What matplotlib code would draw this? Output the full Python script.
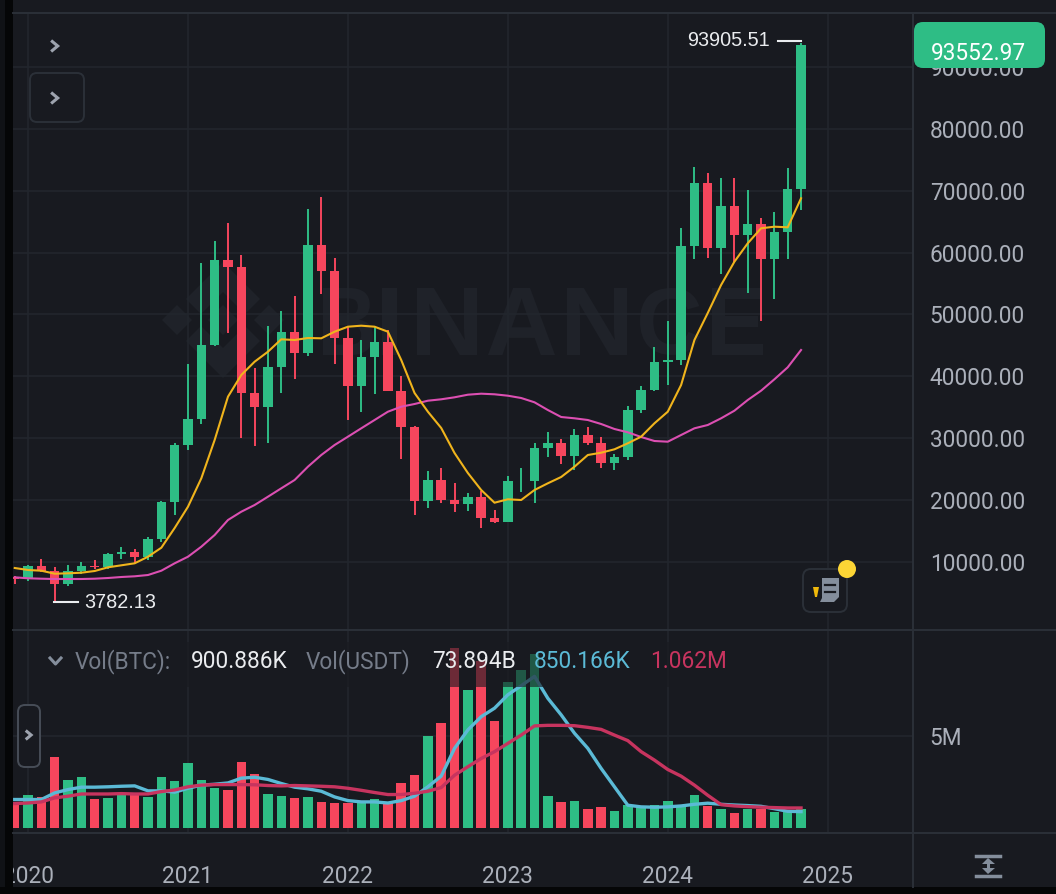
'''
Monthly BTC/USDT candles with two moving averages and a volume pane.
'''

import matplotlib
matplotlib.use('Agg')
from matplotlib import pyplot as plt
from matplotlib.font_manager import FontProperties
from matplotlib.patches import FancyBboxPatch, PathPatch, Polygon, Rectangle, Circle
from matplotlib.textpath import TextPath
from matplotlib.transforms import Affine2D

###############
#    DATA     #
###############

# one entry a month, Dec 2019 to Nov 2024
opens = [7541, 7195, 9352, 8523, 6412, 8620, 9448, 9145, 11335, 11649, 10776, 13791, 19700,
         28923, 33092, 45134, 58739, 57697, 37254, 35045, 41461, 47100, 43820, 61299, 56950,
         46216, 38466, 43160, 45510, 37630, 31801, 19942, 23296, 20048, 19422, 20490, 17165,
         16541, 23125, 23141, 28465, 29233, 27210, 30472, 29232, 25940, 26962, 34639, 37723,
         42283, 42580, 61130, 71280, 60672, 67540, 62772, 64628, 58973, 63327, 70292]
highs = [7750, 9578, 10500, 9188, 9460, 10067, 10380, 11444, 12486, 12067, 14100, 19863, 29300,
         41950, 58352, 61844, 64854, 59592, 41330, 48168, 50500, 52920, 67000, 69000, 59053,
         47990, 45821, 48189, 47444, 40023, 31982, 24668, 25214, 22799, 21085, 21480, 18387,
         23960, 25250, 29184, 31000, 29820, 31431, 31804, 30244, 27483, 35198, 38450, 44700,
         48969, 63913, 73777, 72797, 71979, 72000, 70079, 65660, 66498, 73620, 93905.51]
lows = [6435, 6901, 8445, 3782.13, 6150, 8117, 8833, 8893, 10518, 9819, 10374, 13195, 17572,
        28130, 32296, 44950, 47000, 30000, 28805, 29278, 37332, 39600, 43283, 53256, 42000,
        32917, 34322, 37155, 37578, 26700, 17622, 18781, 19520, 18125, 18190, 15476, 16333,
        16499, 21351, 19549, 26942, 25811, 24800, 28861, 25166, 24901, 26538, 34097, 37615,
        38555, 41884, 59005, 59191, 56552, 58402, 53485, 49000, 52550, 58946, 66835]
closes = [7195, 9353, 8523, 6410, 8620, 9448, 9138, 11335, 11649, 10776, 13791, 19700, 28923,
          33092, 45135, 58740, 57694, 37253, 35045, 41461, 47100, 43824, 61299, 56950, 46216,
          38466, 43160, 45510, 37630, 31801, 19942, 23293, 20050, 19422, 20490, 17164, 16542,
          23125, 23141, 28465, 29233, 27210, 30472, 29232, 25940, 26962, 34639, 37723, 42283,
          42580, 61130, 71280, 60672, 67540, 62772, 64628, 58973, 63327, 70292, 93552.97]

ma_short = [9047, 8724, 8610, 8126, 8190, 8288, 8562, 9160, 9483, 9806, 10872, 12326, 15509,
            18950, 23538, 29725, 36721, 40226, 42375, 43990, 45994, 45880, 46203, 46155, 47221,
            48029, 48191, 48029, 47221, 42649, 37318, 34297, 31664, 27625, 24394, 21648, 19596,
            20145, 20032, 21648, 22730, 23748, 25412, 27302, 27674, 28223, 29192, 30258, 32423,
            34297, 38610, 45880, 50242, 54765, 58530, 61503, 63926, 64185, 64088, 68772]
ma_long = [7544, 7383, 7318, 7270, 7270, 7270, 7318, 7431, 7593, 7706, 7916, 8610, 9806,
           10872, 12488, 14378, 16801, 18142, 19224, 20565, 21922, 23263, 25412, 27302, 28917,
           30258, 31615, 32956, 34297, 35105, 35541, 36074, 36300, 36623, 37044, 37206, 37109,
           36882, 36510, 35815, 34572, 33441, 33231, 32956, 32310, 31502, 30970, 30210, 29564,
           29451, 30533, 31615, 32148, 33231, 34459, 36187, 37689, 39531, 41470, 44265]

# volume, in millions of BTC
volumes = [1.33, 1.78, 1.69, 3.85, 2.6, 2.76, 1.6, 1.62, 1.78, 1.87, 1.69, 2.78, 2.58,
           3.51, 2.6, 2.18, 2.09, 3.6, 2.96, 1.87, 1.73, 1.64, 1.67, 1.4, 1.35,
           1.38, 1.38, 1.6, 1.42, 2.47, 2.89, 5.02, 5.73, 9.78, 7.51, 9.05, 5.82,
           7.96, 8.6, 9.47, 1.73, 1.4, 1.49, 1.04, 1.13, 0.91, 1.24, 1.15, 1.27,
           1.49, 1.2, 1.78, 1.2, 1.05, 0.82, 1.02, 1.04, 0.85, 0.91, 1.02]
vol_ma_short = [1.55, 1.55, 1.55, 1.91, 2.09, 2.22, 2.22, 2.24, 2.27, 2.29, 2.02, 2.02, 1.95,
                2.16, 2.33, 2.38, 2.45, 2.71, 2.76, 2.64, 2.42, 2.22, 2.13, 2.0, 1.69,
                1.49, 1.42, 1.42, 1.36, 1.49, 1.73, 2.24, 2.82, 4.33, 5.33, 6.05, 6.51,
                7.24, 7.73, 8.24, 7.05, 6.15, 5.15, 4.33, 3.24, 2.24, 1.24, 1.15, 1.13,
                1.15, 1.2, 1.29, 1.35, 1.29, 1.25, 1.22, 1.18, 1.05, 0.91, 0.89]
vol_ma_long = [1.33, 1.36, 1.42, 1.64, 1.73, 1.85, 1.85, 1.85, 1.87, 1.85, 1.85, 1.98, 2.07,
               2.24, 2.33, 2.36, 2.36, 2.36, 2.35, 2.31, 2.29, 2.31, 2.29, 2.27, 2.24,
               2.16, 2.05, 1.93, 1.82, 1.82, 1.89, 2.0, 2.2, 2.87, 3.33, 3.78, 4.15,
               4.6, 5.05, 5.55, 5.58, 5.58, 5.56, 5.47, 5.36, 5.05, 4.75, 4.15, 3.69,
               3.18, 2.82, 2.33, 1.78, 1.27, 1.2, 1.16, 1.13, 1.11, 1.09, 1.09]

year_ticks = [1, 13, 25, 37, 49, 61]
year_labels = ['2020', '2021', '2022', '2023', '2024', '2025']
price_ticks = [10000, 20000, 30000, 40000, 50000, 60000, 70000, 80000, 90000]

###############
#  CONSTANTS  #
###############

WIDTH, HEIGHT = 1056, 894
BG = '#181A20'
GRID = '#22262D'
LINE = '#2B3038'
MARK = '#1F2229'
GREEN = '#2EBD85'
RED = '#F6465D'
YELLOW = '#F0B41C'
MAGENTA = '#DC4FB2'
BLUE = '#5BBAD6'
CRIMSON = '#C7345F'
AXIS_TEXT = '#ABB0BA'
ICON = '#848E9C'
DIN = 'Roboto'
HELV = 'Liberation Sans'
FONT_SIZE = 16.3

PANEL_LEFT, PANEL_RIGHT = 13, 913
PRICE_TOP, PRICE_BOTTOM = 13, 630
VOL_BOTTOM = 833
AXIS_BOTTOM = 887

# watermark letters: letter, left and right pixel edge
WATERMARK = [('B', 323, 373), ('I', 382, 397), ('N', 417, 477), ('A', 488, 555),
             ('N', 567, 627), ('C', 640, 700), ('E', 712, 763)]


def pane(fig, top, bottom, zorder):
    """Transparent axes placed by pixel box, with the shared month x scale."""
    ax = fig.add_axes([PANEL_LEFT / WIDTH, 1 - bottom / HEIGHT,
                       (PANEL_RIGHT - PANEL_LEFT) / WIDTH, (bottom - top) / HEIGHT],
                      zorder=zorder)
    ax.set_facecolor('none')
    ax.set_xlim(-0.13, 67.4)
    for spine in ax.spines.values():
        spine.set_visible(False)
    ax.set_xticks(year_ticks)
    ax.tick_params(length=0)
    ax.yaxis.tick_right()
    ax.grid(True, color=GRID, linewidth=1.2)
    ax.set_axisbelow(True)
    return ax


def chevron(ax, x, y, size=4.5):
    ax.plot([x - size * 0.6, x + size * 0.6, x - size * 0.6], [y - size, y, y + size],
            color='#9DA3AE', linewidth=2.2, solid_joinstyle='miter')


fig = plt.figure(figsize=(WIDTH / 100, HEIGHT / 100), dpi=100, facecolor=BG)

# background layer, pixel coordinates
ax_bg = fig.add_axes([0, 0, 1, 1], zorder=0)
ax_bg.set_xlim(0, WIDTH)
ax_bg.set_ylim(HEIGHT, 0)
ax_bg.axis('off')

# watermark, each letter stretched to its box
prop = FontProperties(family=HELV, weight='bold')
for letter, x0, x1 in WATERMARK:
    path = TextPath((0, 0), letter, size=100, prop=prop)
    box = path.get_extents()
    place = (Affine2D().translate(-box.x0, -box.y0)
             .scale((x1 - x0) / box.width, -67 / box.height).translate(x0, 355))
    ax_bg.add_patch(PathPatch(place.transform_path(path), facecolor=MARK, edgecolor='none'))
cx, cy = 223, 320
top_chev = [(0, -58), (37, -21), (22, -6), (0, -28), (-22, -6), (-37, -21)]
for sign in (1, -1):
    ax_bg.add_patch(Polygon([(cx + a, cy + sign * b) for a, b in top_chev], color=MARK, lw=0))
for dx in (-46, 0, 46):
    ax_bg.add_patch(Polygon([(cx + dx - 15, cy), (cx + dx, cy - 15), (cx + dx + 15, cy), (cx + dx, cy + 15)],
                            color=MARK, lw=0))

# price pane
ax_price = pane(fig, PRICE_TOP, PRICE_BOTTOM, 1)
ax_price.set_ylim(-969, 98707)
ax_price.set_yticks(price_ticks)
ax_price.set_yticklabels([f'{v:.2f}' for v in price_ticks], family=DIN, fontsize=FONT_SIZE, color=AXIS_TEXT)
ax_price.tick_params(axis='y', pad=12)
ax_price.tick_params(axis='x', labelbottom=False)

months = list(range(len(opens)))
colors = [GREEN if c >= o else RED for o, c in zip(opens, closes)]
ax_price.vlines(months, lows, highs, colors=colors, linewidth=1.4, zorder=2)
ax_price.bar(months, [abs(c - o) for o, c in zip(opens, closes)],
             bottom=[min(o, c) for o, c in zip(opens, closes)],
             width=0.71, color=colors, zorder=3)
ax_price.plot(months, ma_long, color=MAGENTA, linewidth=1.5, zorder=4)
ax_price.plot(months, ma_short, color=YELLOW, linewidth=1.5, zorder=5)

# volume pane
ax_vol = pane(fig, PRICE_BOTTOM, VOL_BOTTOM, 1)
ax_vol.set_ylim(-0.27, 10.76)
ax_vol.set_yticks([5])
ax_vol.set_yticklabels(['5M'], family=DIN, fontsize=FONT_SIZE, color=AXIS_TEXT)
ax_vol.tick_params(axis='y', pad=12)
ax_vol.set_xticklabels(year_labels, family=DIN, fontsize=FONT_SIZE, color=AXIS_TEXT)
ax_vol.tick_params(axis='x', pad=23)
ax_vol.bar(months, volumes, width=0.71, color=colors, zorder=2)
ax_vol.plot(months, vol_ma_short, color=BLUE, linewidth=2.4, zorder=3)
ax_vol.plot(months, vol_ma_long, color=CRIMSON, linewidth=2.4, zorder=4)

# overlay layer, pixel coordinates
ax_top = fig.add_axes([0, 0, 1, 1], zorder=10)
ax_top.set_facecolor('none')
ax_top.set_xlim(0, WIDTH)
ax_top.set_ylim(HEIGHT, 0)
ax_top.axis('off')

# frame lines and dark edges
ax_top.plot([PANEL_LEFT, WIDTH], [PRICE_TOP, PRICE_TOP], color=LINE, linewidth=1.4)
ax_top.plot([PANEL_LEFT, WIDTH], [PRICE_BOTTOM, PRICE_BOTTOM], color=LINE, linewidth=1.4)
ax_top.plot([PANEL_LEFT, WIDTH], [VOL_BOTTOM, VOL_BOTTOM], color=LINE, linewidth=1.4)
ax_top.plot([PANEL_RIGHT, PANEL_RIGHT], [PRICE_TOP, AXIS_BOTTOM], color=LINE, linewidth=1.4)
ax_top.add_patch(Rectangle((0, 0), 5, HEIGHT, color='#101216', lw=0))
ax_top.add_patch(Rectangle((5, 0), 8, HEIGHT, color='#050607', lw=0))
ax_top.add_patch(Rectangle((0, AXIS_BOTTOM), WIDTH, HEIGHT - AXIS_BOTTOM, color='#050607', lw=0))

# legend backdrop dims the tall volume bars
ax_top.add_patch(Rectangle((42, 642), 700, 45, color=BG, alpha=0.62, lw=0))

# volume legend
ax_top.plot([50, 55.5, 61], [658, 664, 658], color=ICON, linewidth=2.2)
legend_items = [('Vol(BTC):', 75, '#757C89'), ('900.886K', 191, '#EAECEF'), ('Vol(USDT)', 306, '#757C89'),
                ('73.894B', 432, '#EAECEF'), ('850.166K', 534, BLUE), ('1.062M', 650, CRIMSON)]
for label, x, color in legend_items:
    ax_top.text(x, 662, label, family=DIN, fontsize=FONT_SIZE, color=color, ha='left', va='center')

# price labels
ax_top.text(770, 41, '93905.51', family=HELV, fontsize=14.3, color='#EAECEF', ha='right', va='center')
ax_top.plot([778, 801], [41, 41], color='#EAECEF', linewidth=1.5)
ax_top.text(84, 602, '3782.13', family=HELV, fontsize=14.3, color='#EAECEF', ha='left', va='center')
ax_top.plot([54, 78], [602, 602], color='#EAECEF', linewidth=1.5)

ax_top.add_patch(FancyBboxPatch((914, 22), 131, 46, boxstyle='round,pad=0,rounding_size=9',
                                facecolor=GREEN, edgecolor='none'))
ax_top.text(978, 53, '93552.97', family=DIN, fontsize=FONT_SIZE, color='white', ha='center', va='center')

# buttons
chevron(ax_top, 55, 46)
ax_top.add_patch(FancyBboxPatch((30, 73), 54, 49, boxstyle='round,pad=0,rounding_size=7',
                                facecolor='none', edgecolor=LINE, linewidth=1.4))
chevron(ax_top, 55, 98)
ax_top.add_patch(FancyBboxPatch((18, 705), 22, 62, boxstyle='round,pad=0,rounding_size=7',
                                facecolor=BG, edgecolor='#474D57', linewidth=1.4))
chevron(ax_top, 29, 735, size=3.5)

# note icon
ax_top.add_patch(FancyBboxPatch((803, 569), 44, 43, boxstyle='round,pad=0,rounding_size=8',
                                facecolor=BG, edgecolor=LINE, linewidth=1.4))
ax_top.add_patch(Polygon([(813, 587), (819, 587), (817, 597), (815, 597)], color='#F0B90B', lw=0))
ax_top.add_patch(Polygon([(822, 578), (839, 578), (839, 597), (834, 602), (820, 602), (822, 598)],
                         color=ICON, lw=0))
for y in (585, 592):
    ax_top.plot([825, 835], [y, y], color=BG, linewidth=1.6)
ax_top.add_patch(Circle((847, 569), 9, color='#FCD535', lw=0))

# scale icon
for y in (856, 876):
    ax_top.plot([976, 1000], [y, y], color=ICON, linewidth=2.5)
ax_top.add_patch(Polygon([(988, 858), (995, 864), (982, 864)], color=ICON, lw=0))
ax_top.add_patch(Polygon([(988, 874), (995, 868), (982, 868)], color=ICON, lw=0))
ax_top.plot([988, 988], [862, 870], color=ICON, linewidth=2.2)

fig.savefig('out.png', dpi=100, facecolor=BG)
